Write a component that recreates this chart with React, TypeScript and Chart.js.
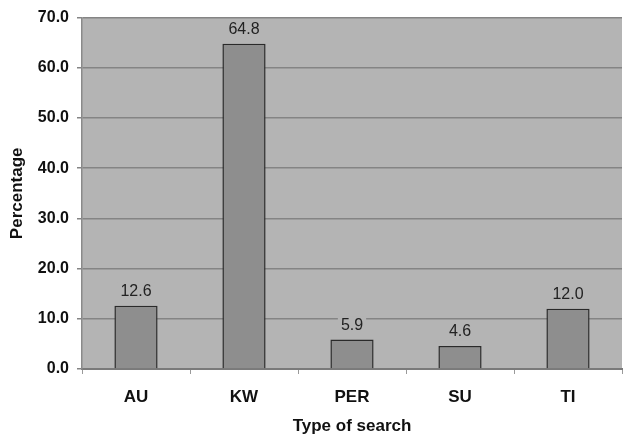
import React, { useEffect, useRef } from "react";
import { Chart, registerables } from "chart.js";

Chart.register(...registerables);

const categories = ["AU", "KW", "PER", "SU", "TI"];
const percentages = [12.6, 64.8, 5.9, 4.6, 12.0];
const yTicks = [0, 10, 20, 30, 40, 50, 60, 70];

const PLOT_BG = "#b4b4b4";
const FONT = "'Liberation Sans', Arial, sans-serif";

const bgPlugin = {
  id: "plotBg",
  beforeDraw(chart: any) {
    const { ctx, chartArea } = chart;
    ctx.save();
    ctx.fillStyle = PLOT_BG;
    ctx.fillRect(chartArea.left, chartArea.top, chartArea.right - chartArea.left, chartArea.bottom - chartArea.top);
    ctx.restore();
  },
};

const labelPlugin = {
  id: "barLabels",
  afterDatasetsDraw(chart: any) {
    const { ctx } = chart;
    const meta = chart.getDatasetMeta(0);
    ctx.save();
    ctx.font = "16px " + FONT;
    ctx.textAlign = "center";
    ctx.textBaseline = "middle";
    meta.data.forEach((bar: any, i: number) => {
      const text = percentages[i].toFixed(1);
      const y = bar.y - 14;
      const w = ctx.measureText(text).width + 6;
      ctx.fillStyle = PLOT_BG;
      ctx.fillRect(bar.x - w / 2, y - 9, w, 18);
      ctx.fillStyle = "#222222";
      ctx.fillText(text, bar.x, y);
    });
    ctx.restore();
  },
};

export default function App() {
  const ref = useRef<HTMLCanvasElement>(null);
  useEffect(() => {
    if (!ref.current) return;
    const chart = new Chart(ref.current, {
      type: "bar",
      data: {
        labels: categories,
        datasets: [
          {
            data: percentages,
            backgroundColor: "#8e8e8e",
            borderColor: "#2a2a2a",
            borderWidth: 1.5,
            categoryPercentage: 0.4,
            barPercentage: 1,
          },
        ],
      },
      options: {
        animation: false,
        responsive: false,
        maintainAspectRatio: false,
        layout: { padding: { top: 13, right: 3, left: 0, bottom: 0 } },
        plugins: { legend: { display: false }, tooltip: { enabled: false } },
        scales: {
          x: {
            grid: {
              offset: true,
              drawOnChartArea: false,
              drawTicks: true,
              tickLength: 5,
              color: "#9a9a9a",
            },
            border: { color: "#7a7a7a", width: 2 },
            ticks: {
              color: "#111",
              font: { family: FONT, size: 17, weight: "bold" },
              padding: 13,
            },
            title: {
              display: true,
              text: "Type of search",
              color: "#111",
              font: { family: FONT, size: 17, weight: "bold" },
              padding: { top: 0, bottom: 1 },
            },
            afterFit(scale: any) {
              scale.height = 69;
            },
          },
          y: {
            min: 0,
            max: 70,
            afterBuildTicks(scale: any) {
              scale.ticks = yTicks.map((v) => ({ value: v }));
            },
            grid: {
              color: "#848484",
              lineWidth: 1.5,
              tickLength: 5,
            },
            border: { color: "#8a8a8a", width: 1.5 },
            ticks: {
              color: "#111",
              font: { family: FONT, size: 16, weight: "bold" },
              padding: 8,
              callback: (v: any) => Number(v).toFixed(1),
            },
            title: {
              display: true,
              text: "Percentage",
              color: "#111",
              font: { family: FONT, size: 17, weight: "bold" },
              padding: { top: 7, bottom: 0 },
            },
            afterFit(scale: any) {
              scale.width = 82;
            },
          },
        },
      },
      plugins: [bgPlugin, labelPlugin],
    });
    return () => chart.destroy();
  }, []);
  return (
    <div style={{ position: "fixed", left: 0, top: 0, background: "#fff" }}>
      <canvas ref={ref} width={625} height={438} style={{ display: "block" }} />
    </div>
  );
}
